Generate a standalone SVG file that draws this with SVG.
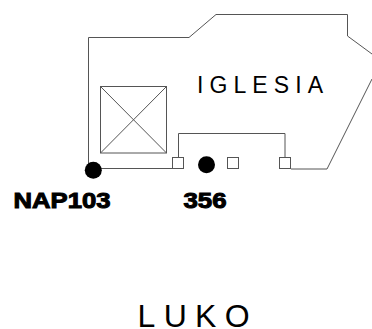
<svg xmlns="http://www.w3.org/2000/svg" width="372" height="329" viewBox="0 0 372 329">
<style>
.l{fill:none;stroke:#555;stroke-width:1}
.s{fill:#fff;stroke:#555;stroke-width:1}
.d{fill:#000}
.b{font-family:"Liberation Sans",Arial,sans-serif;font-weight:700;font-size:22.500px;fill:#000;stroke:#000;stroke-width:1}
.t{font-family:"Liberation Sans",Arial,sans-serif;fill:#000}
</style>
<rect width="372" height="329" fill="#fff"/>
<g id="connectors">
<path class="l" d="M88.500 168.500V37.500H189L216 14.500H347.500V36L372 54"/>
<path class="l" d="M372 79L327 169H291M172 168.500H93"/>
<path class="l" d="M178.500 157V133.500H285V157"/>
</g>
<g id="tower">
<rect class="l" x="100.500" y="86.500" width="66" height="66.500"/>
<path class="l" d="M100.500 86.500L166.500 153M166.500 86.500L100.500 153" stroke-width=".8"/>
</g>
<g id="iglesia"><text class="t" x="197" y="92.500" font-size="23" letter-spacing="6.100">IGLESIA</text></g>
<g id="sq1"><rect class="s" x="172.500" y="157.500" width="11" height="11"/></g>
<g id="sq2"><rect class="s" x="227.500" y="157.500" width="11" height="11"/></g>
<g id="sq3"><rect class="s" x="279.500" y="157.500" width="11" height="11"/></g>
<g id="nap103"><circle class="d" cx="93.300" cy="170.300" r="8.500"/><text class="b" x="13.500" y="208" textLength="97" lengthAdjust="spacingAndGlyphs">NAP103</text></g>
<g id="n356"><circle class="d" cx="206.500" cy="164.700" r="8.500"/><text class="b" x="183.500" y="208" textLength="43" lengthAdjust="spacingAndGlyphs">356</text></g>
<g id="luko"><text class="t" x="137.600" y="327" font-size="32" letter-spacing="8.300">LUKO</text></g>
</svg>
